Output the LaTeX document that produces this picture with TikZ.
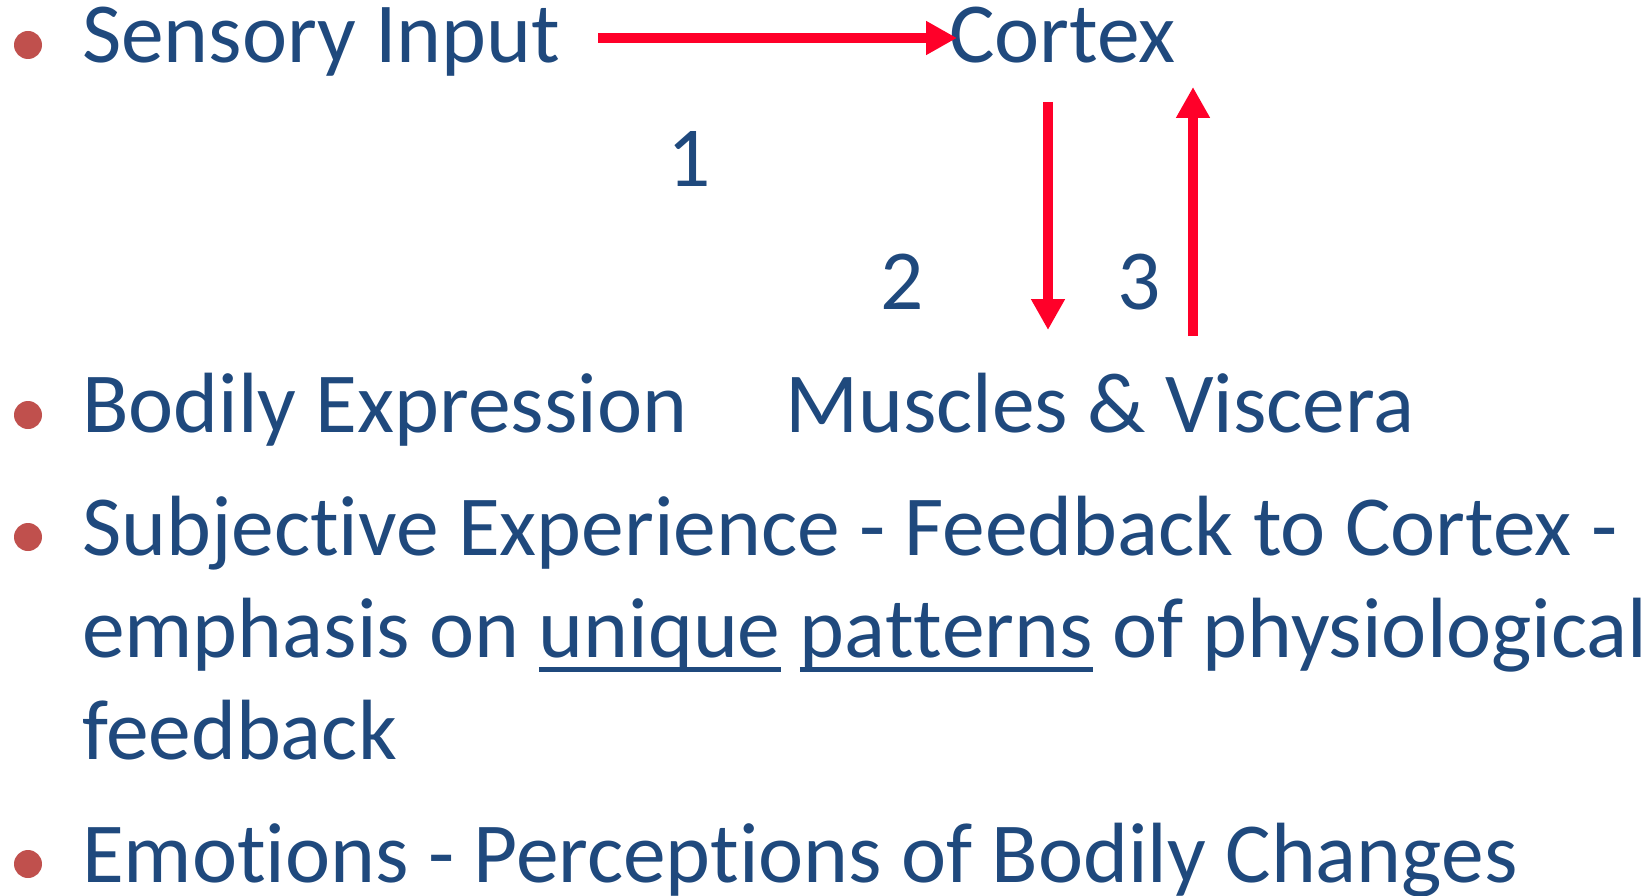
\documentclass[tikz,border=0pt]{standalone}
\usepackage{fontspec}
\setmainfont{Carlito}[Ligatures={NoCommon,NoContextual,NoRequired,NoRare}]
\usetikzlibrary{arrows.meta}
\definecolor{txt}{HTML}{1F497D}
\definecolor{bul}{HTML}{C0504D}
\definecolor{arr}{HTML}{FF0029}
% a zero kern keeps letter pairs such as t+i apart
\newcommand\sep{\kern0pt }
\begin{document}
\begin{tikzpicture}[x=1pt,y=-1pt,
  every node/.style={inner sep=0pt, outer sep=0pt, text=txt,
    font=\fontsize{85.5}{85.5}\selectfont},
  line/.style={anchor=base west},
  num/.style={anchor=base},
  dot/.style={circle, fill=bul, minimum size=28pt},
  flow/.style={draw=arr, line width=10pt, -{Triangle[length=31pt,width=32pt]}},
  ul/.style={draw=txt, line width=5pt}]
\useasboundingbox (0,0) rectangle (1651,896);

% bullets
\node[dot] (b1) at (28,45) {};
\node[dot] (b2) at (28,415) {};
\node[dot] (b3) at (28,537) {};
\node[dot] (b4) at (28,864) {};

% first bullet: the pathway
\node[line] (sensory) at (82,63) {Sensory Input};
\node[line] (cortex) at (949,63) {Cortex};
\node[num] (n1) at (689,186) {1};
\node[num] (n2) at (902,309) {2};
\node[num] (n3) at (1139,309) {3};

% second bullet
\node[line] (bodily) at (82,432.5) {Bodily Expression};
\node[line] (muscles) at (785,432.5) {Muscles \& Viscera};

% third bullet, three lines
\node[line] (subj) at (82,555) {Subject\sep ive Experience - Feedback to Cortex -};
\node[line] (emph) at (82,657) {emphasis on};
\node[line] (uniq) at ([xshift=19.3pt]emph.base east) {unique};
\node[line] (patt) at ([xshift=19.3pt]uniq.base east) {pat\sep t\sep erns};
\node[line] (phys) at ([xshift=19.3pt]patt.base east) {of physiological};
\node[line] (feed) at (82,759.5) {feedback};

% fourth bullet
\node[line] (emot) at (82,882) {Emot\sep ions - Percept\sep ions of Bodily Changes};

% underlines
\draw[ul] ([yshift=-12pt]uniq.base west) -- ([yshift=-12pt]uniq.base east);
\draw[ul] ([yshift=-12pt]patt.base west) -- ([yshift=-12pt]patt.base east);

% arrow ends
\coordinate (s1) at (598,38);
\coordinate (t1) at (957,38);
\coordinate (s2) at (1048,102);
\coordinate (t2) at (1048,330);
\coordinate (s3) at (1193,336);
\coordinate (t3) at (1193,87);

\draw[flow] (s1) -- (t1);
\draw[flow] (s2) -- (t2);
\draw[flow] (s3) -- (t3);
\end{tikzpicture}
\end{document}
